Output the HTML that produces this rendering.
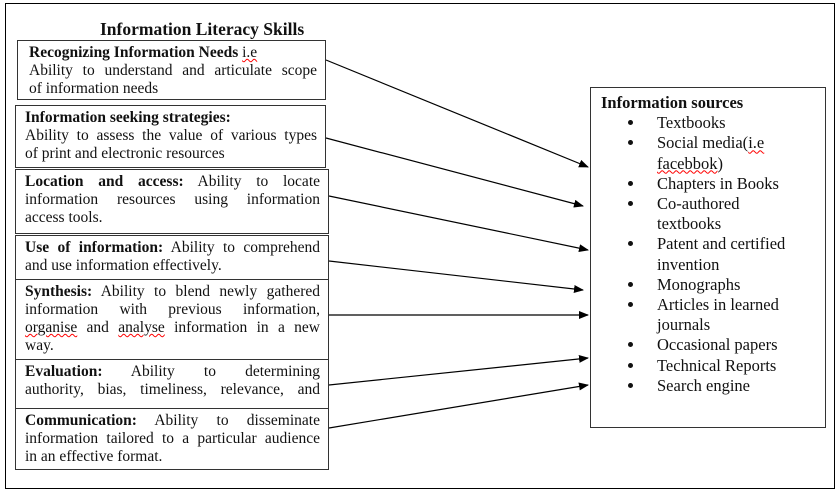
<!DOCTYPE html>
<html><head><style>
body{margin:0;width:839px;height:491px;background:#fff;position:relative;font-family:"Liberation Serif",serif;color:#111;overflow:hidden}
.frame{position:absolute;left:5px;top:3px;width:828px;height:484px;border:1px solid #000}
.b{position:absolute;border:1.5px solid #333;box-sizing:border-box;padding:3px 8px 0 9px;font-size:15.5px;line-height:18px;overflow:hidden;background:#fff}
.b b{font-weight:bold}
.b i{display:block;font-style:normal;text-align:justify;text-align-last:justify;white-space:nowrap}
.b i.l{text-align-last:left}
.t{position:absolute;left:100px;top:19px;font-weight:bold;font-size:17.5px}
.r{position:absolute;left:590px;top:87px;width:236px;height:341px;border:1.5px solid #333;box-sizing:border-box;padding:5px 0 0 10px;font-size:16.5px;line-height:20.2px}
.r ul{margin:0;padding:0 0 0 44px;list-style:disc}
.r li{padding-left:12px}
.u{text-decoration:underline wavy red;text-decoration-thickness:1px}
svg{position:absolute;left:0;top:0}
</style></head><body>
<div class="frame"></div>
<div class="t">Information Literacy Skills</div>
<div class="b" style="left:17px;top:40px;width:309px;height:60px;padding-left:11px"><i class="l"><b>Recognizing Information Needs</b> <span class="u">i.e</span></i><i>Ability to understand and articulate scope</i><i class="l">of information needs</i></div>
<div class="b" style="left:15px;top:105px;width:311px;height:63px"><i class="l"><b>Information seeking strategies:</b></i><i>Ability to assess the value of various types</i><i class="l">of print and electronic resources</i></div>
<div class="b" style="left:15px;top:169px;width:314px;height:65px"><i><b>Location and access:</b> Ability to locate</i><i>information resources using information</i><i class="l">access tools.</i></div>
<div class="b" style="left:15px;top:235px;width:314px;height:45px"><i><b>Use of information:</b> Ability to comprehend</i><i class="l">and use information effectively.</i></div>
<div class="b" style="left:15px;top:279px;width:314px;height:81px"><i><b>Synthesis:</b> Ability to blend newly gathered</i><i>information with previous information,</i><i><span class="u">organise</span> and <span class="u">analyse</span> information in a new</i><i class="l">way.</i></div>
<div class="b" style="left:15px;top:359px;width:314px;height:50px"><i><b>Evaluation:</b> Ability to determining</i><i>authority, bias, timeliness, relevance, and</i></div>
<div class="b" style="left:15px;top:408px;width:314px;height:62px"><i><b>Communication:</b> Ability to disseminate</i><i>information tailored to a particular audience</i><i class="l">in an effective format.</i></div>
<div class="r"><b>Information sources</b>
<ul><li>Textbooks</li><li>Social media(<span class="u">i.e</span><br><span class="u">facebbok</span>)</li><li>Chapters in Books</li><li>Co-authored<br>textbooks</li><li>Patent and certified<br>invention</li><li>Monographs</li><li>Articles in learned<br>journals</li><li>Occasional papers</li><li>Technical Reports</li><li>Search engine</li></ul></div>
<svg width="839" height="491"><defs><marker id="a" markerWidth="10" markerHeight="8" refX="9" refY="4" orient="auto" markerUnits="userSpaceOnUse"><path d="M0,0L10,4L0,8z" fill="#000"/></marker></defs>
<g stroke="#000" stroke-width="1.2" marker-end="url(#a)">
<line x1="326" y1="60" x2="588" y2="167"/>
<line x1="326" y1="138" x2="583" y2="206"/>
<line x1="329" y1="196" x2="588" y2="250"/>
<line x1="329" y1="261" x2="583" y2="290"/>
<line x1="329" y1="315" x2="588" y2="315"/>
<line x1="329" y1="385" x2="588" y2="358"/>
<line x1="329" y1="428" x2="588" y2="385"/>
</g></svg>
</body></html>
